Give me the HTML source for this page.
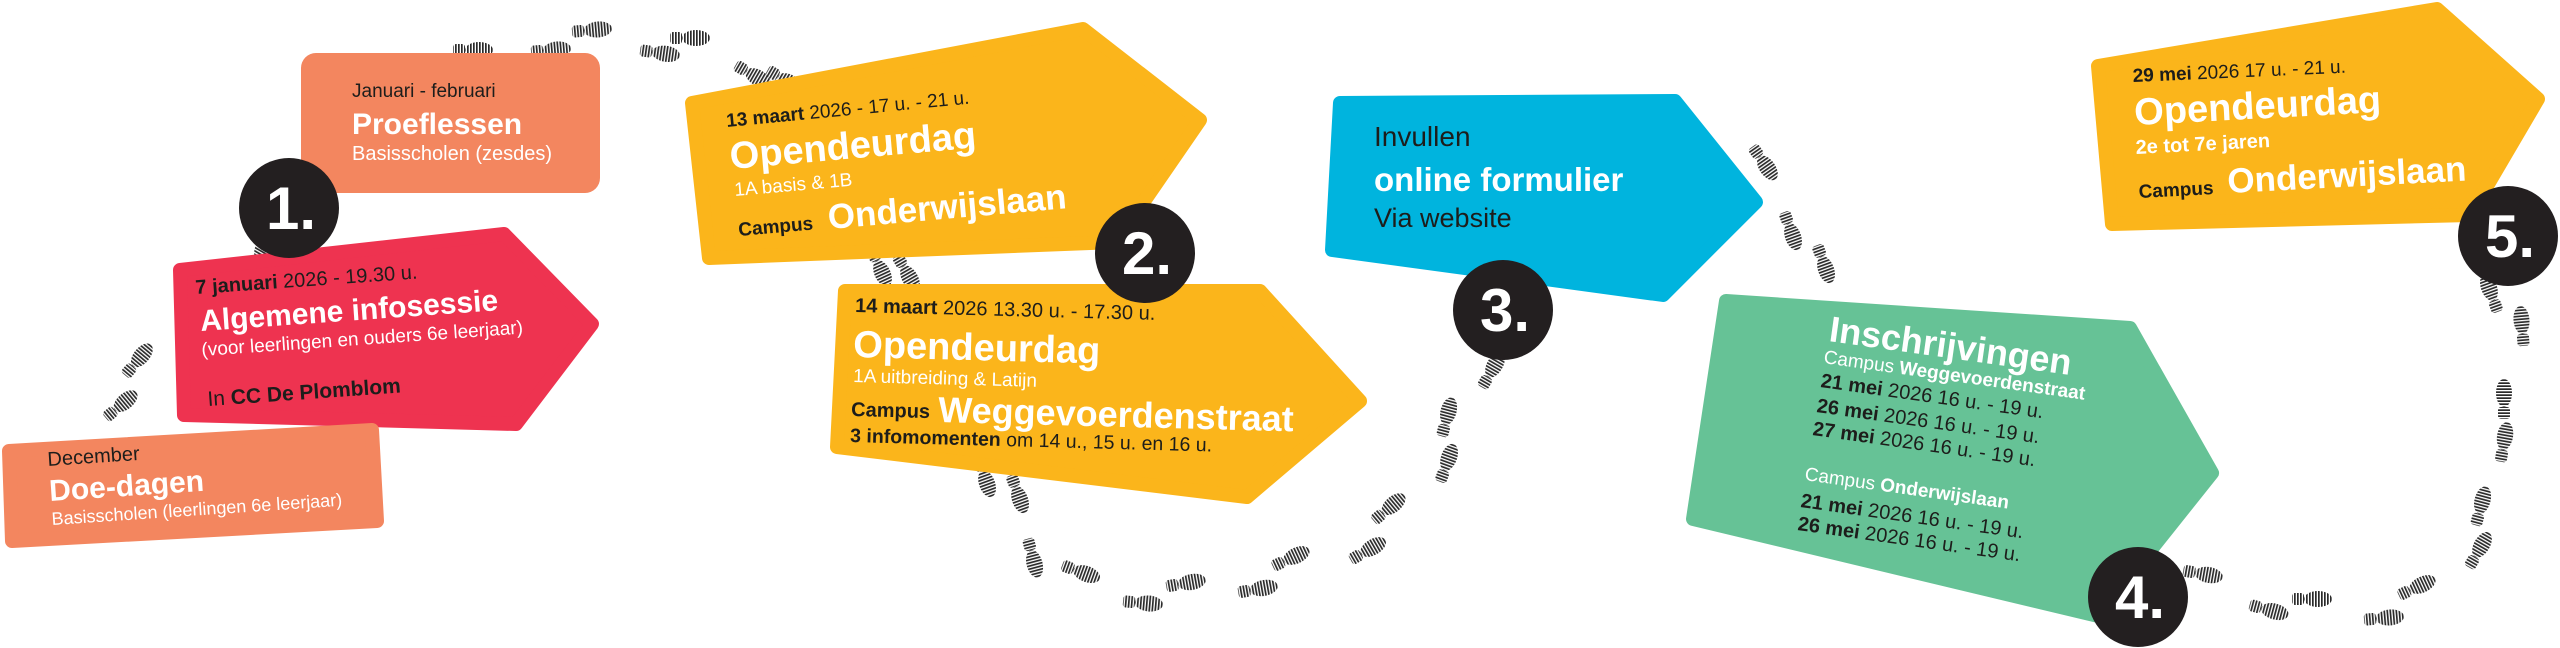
<!DOCTYPE html>
<html><head><meta charset="utf-8">
<style>
html,body{margin:0;padding:0;background:#fff;}
#c{position:relative;width:2560px;height:648px;overflow:hidden;background:#fff;font-family:"Liberation Sans",sans-serif;}
svg{position:absolute;left:0;top:0;}
.t{position:absolute;white-space:nowrap;line-height:1;transform-origin:0 85%;color:#1d1d1b;}
.w{color:#fff;}
.b{font-weight:bold;}
</style></head><body><div id="c">
<svg width="2560" height="648" viewBox="0 0 2560 648">
<defs>
<pattern id="st" width="3" height="3" patternUnits="userSpaceOnUse"><rect x="0" y="0" width="1.7" height="3" fill="#2a2a2a"/></pattern>
<g id="fp"><ellipse cx="6" cy="0" rx="14" ry="8" fill="url(#st)"/><rect x="-20" y="-6" width="12" height="12" rx="3" fill="url(#st)"/></g>
</defs>
<g>
<use href="#fp" transform="translate(473,50) rotate(0)"/>
<use href="#fp" transform="translate(551,50) rotate(-5)"/>
<use href="#fp" transform="translate(592,30) rotate(-5)"/>
<use href="#fp" transform="translate(660,53) rotate(8)"/>
<use href="#fp" transform="translate(690,38) rotate(0)"/>
<use href="#fp" transform="translate(753,75) rotate(30)"/>
<use href="#fp" transform="translate(785,80) rotate(30)"/>
<use href="#fp" transform="translate(138,360) rotate(-50)"/>
<use href="#fp" transform="translate(121,405) rotate(-40)"/>
<use href="#fp" transform="translate(261,252) rotate(-60)"/>
<use href="#fp" transform="translate(880,268) rotate(65)"/>
<use href="#fp" transform="translate(907,273) rotate(60)"/>
<use href="#fp" transform="translate(985,478) rotate(70)"/>
<use href="#fp" transform="translate(1018,494) rotate(70)"/>
<use href="#fp" transform="translate(1033,558) rotate(75)"/>
<use href="#fp" transform="translate(1081,572) rotate(20)"/>
<use href="#fp" transform="translate(1143,603) rotate(5)"/>
<use href="#fp" transform="translate(1186,583) rotate(-10)"/>
<use href="#fp" transform="translate(1258,589) rotate(-10)"/>
<use href="#fp" transform="translate(1291,558) rotate(-25)"/>
<use href="#fp" transform="translate(1368,550) rotate(-30)"/>
<use href="#fp" transform="translate(1389,508) rotate(-40)"/>
<use href="#fp" transform="translate(1447,463) rotate(-70)"/>
<use href="#fp" transform="translate(1447,417) rotate(-75)"/>
<use href="#fp" transform="translate(1492,370) rotate(-60)"/>
<use href="#fp" transform="translate(1764,163) rotate(55)"/>
<use href="#fp" transform="translate(1791,231) rotate(70)"/>
<use href="#fp" transform="translate(1824,264) rotate(70)"/>
<use href="#fp" transform="translate(2203,574) rotate(10)"/>
<use href="#fp" transform="translate(2269,610) rotate(15)"/>
<use href="#fp" transform="translate(2312,599) rotate(0)"/>
<use href="#fp" transform="translate(2384,618) rotate(-5)"/>
<use href="#fp" transform="translate(2417,587) rotate(-25)"/>
<use href="#fp" transform="translate(2479,550) rotate(-60)"/>
<use href="#fp" transform="translate(2481,506) rotate(-75)"/>
<use href="#fp" transform="translate(2504,442) rotate(-80)"/>
<use href="#fp" transform="translate(2504,399) rotate(-90)"/>
<use href="#fp" transform="translate(2522,326) rotate(-95)"/>
<use href="#fp" transform="translate(2491,293) rotate(-110)"/>
</g>
<g stroke-linejoin="round" stroke-width="14">
<rect x="301" y="53" width="299" height="140" rx="15" fill="#F3865F"/>
<polygon points="180,270 504,234 592,324 516,424 184,415" fill="#EE3350" stroke="#EE3350"/>
<polygon points="9,451 372,430 377,521 12,541" fill="#F3865F" stroke="#F3865F"/>
<polygon points="692,103 1083,29 1200,120 1116,242 709,258" fill="#FBB51B" stroke="#FBB51B"/>
<polygon points="845,291 1260,291 1360,401 1247,497 837,447" fill="#FBB51B" stroke="#FBB51B"/>
<polygon points="1340,103 1675,101 1756,202 1663,295 1332,250" fill="#00B4DE" stroke="#00B4DE"/>
<polygon points="1726,301 2130,328 2212,473 2098,616 1693,519" fill="#66C296" stroke="#66C296"/>
<polygon points="2098,66 2437,9 2538,99 2470,215 2112,224" fill="#FBB51B" stroke="#FBB51B"/>
</g>
<g fill="#231F20">
<circle cx="289" cy="208" r="50"/>
<circle cx="1145" cy="253" r="50"/>
<circle cx="1503" cy="310" r="50"/>
<circle cx="2138" cy="597" r="50"/>
<circle cx="2508" cy="236" r="50"/>
</g>
<g fill="#fff" font-family="Liberation Sans, sans-serif" font-weight="bold" font-size="60" text-anchor="middle">
<text x="291" y="229">1.</text>
<text x="1147" y="274">2.</text>
<text x="1505" y="331">3.</text>
<text x="2140" y="618">4.</text>
<text x="2510" y="257">5.</text>
</g>
</svg>

<div class="t" style="left:352px;top:82px;font-size:19px;">Januari - februari</div>
<div class="t w b" style="left:352px;top:110px;font-size:30px;">Proeflessen</div>
<div class="t w" style="left:352px;top:144px;font-size:20px;">Basisscholen (zesdes)</div>

<div class="t" style="left:196px;top:278px;font-size:20px;transform:rotate(-4deg)"><b>7 januari</b> 2026 - 19.30 u.</div>
<div class="t w b" style="left:201px;top:307px;font-size:30px;transform:rotate(-4deg)">Algemene infosessie</div>
<div class="t w" style="left:202px;top:341px;font-size:19px;transform:rotate(-4deg)">(voor leerlingen en ouders 6e leerjaar)</div>
<div class="t" style="left:208px;top:389px;font-size:21px;transform:rotate(-4deg)">In <b>CC De Plomblom</b></div>

<div class="t" style="left:48px;top:450px;font-size:20px;transform:rotate(-3.8deg)">December</div>
<div class="t w b" style="left:50px;top:477px;font-size:30px;transform:rotate(-3.8deg)">Doe-dagen</div>
<div class="t w" style="left:52px;top:510px;font-size:18px;transform:rotate(-3.8deg)">Basisscholen (leerlingen 6e leerjaar)</div>

<div class="t" style="left:727px;top:112px;font-size:19px;transform:rotate(-5.5deg)"><b>13 maart</b> 2026 - 17 u. - 21 u.</div>
<div class="t w b" style="left:731px;top:138px;font-size:38px;transform:rotate(-5deg)">Opendeurdag</div>
<div class="t w" style="left:735px;top:181px;font-size:19px;transform:rotate(-5deg)">1A basis &amp; 1B</div>
<div class="t b" style="left:739px;top:221px;font-size:19px;transform:rotate(-5deg)">Campus</div>
<div class="t w b" style="left:829px;top:200px;font-size:35px;transform:rotate(-5deg)">Onderwijslaan</div>

<div class="t" style="left:855px;top:296px;font-size:20px;transform:rotate(1.5deg)"><b>14 maart</b> 2026 13.30 u. - 17.30 u.</div>
<div class="t w b" style="left:853px;top:326px;font-size:38px;transform:rotate(1.5deg)">Opendeurdag</div>
<div class="t w" style="left:853px;top:367px;font-size:19px;transform:rotate(1.5deg)">1A uitbreiding &amp; Latijn</div>
<div class="t b" style="left:851px;top:400px;font-size:20px;transform:rotate(1.5deg)">Campus</div>
<div class="t w b" style="left:938px;top:392px;font-size:36px;transform:rotate(1.5deg)">Weggevoerdenstraat</div>
<div class="t" style="left:850px;top:427px;font-size:19.5px;transform:rotate(1.5deg)"><b>3 infomomenten</b> om 14 u., 15 u. en 16 u.</div>

<div class="t" style="left:1374px;top:123px;font-size:28px;">Invullen</div>
<div class="t w b" style="left:1374px;top:163px;font-size:33px;">online formulier</div>
<div class="t" style="left:1374px;top:205px;font-size:27px;">Via website</div>

<div class="t w b" style="left:1828px;top:311px;font-size:36px;transform:rotate(8deg)">Inschrijvingen</div>
<div class="t w" style="left:1823px;top:348px;font-size:19px;transform:rotate(8deg)">Campus <b>Weggevoerdenstraat</b></div>
<div class="t" style="left:1820px;top:371px;font-size:20px;transform:rotate(8deg)"><b>21 mei</b> 2026 16 u. - 19 u.</div>
<div class="t" style="left:1816px;top:396px;font-size:20px;transform:rotate(8deg)"><b>26 mei</b> 2026 16 u. - 19 u.</div>
<div class="t" style="left:1812px;top:419px;font-size:20px;transform:rotate(8deg)"><b>27 mei</b> 2026 16 u. - 19 u.</div>
<div class="t w" style="left:1804px;top:465px;font-size:19px;transform:rotate(8deg)">Campus <b>Onderwijslaan</b></div>
<div class="t" style="left:1800px;top:491px;font-size:20px;transform:rotate(8deg)"><b>21 mei</b> 2026 16 u. - 19 u.</div>
<div class="t" style="left:1797px;top:514px;font-size:20px;transform:rotate(8deg)"><b>26 mei</b> 2026 16 u. - 19 u.</div>

<div class="t" style="left:2133px;top:67px;font-size:19px;transform:rotate(-2.5deg)"><b>29 mei</b> 2026 17 u. - 21 u.</div>
<div class="t w b" style="left:2135px;top:94px;font-size:38px;transform:rotate(-3deg)">Opendeurdag</div>
<div class="t w b" style="left:2136px;top:138px;font-size:20px;transform:rotate(-3deg)">2e tot 7e jaren</div>
<div class="t b" style="left:2139px;top:183px;font-size:19px;transform:rotate(-3deg)">Campus</div>
<div class="t w b" style="left:2228px;top:164px;font-size:35px;transform:rotate(-3deg)">Onderwijslaan</div>
</div></body></html>
